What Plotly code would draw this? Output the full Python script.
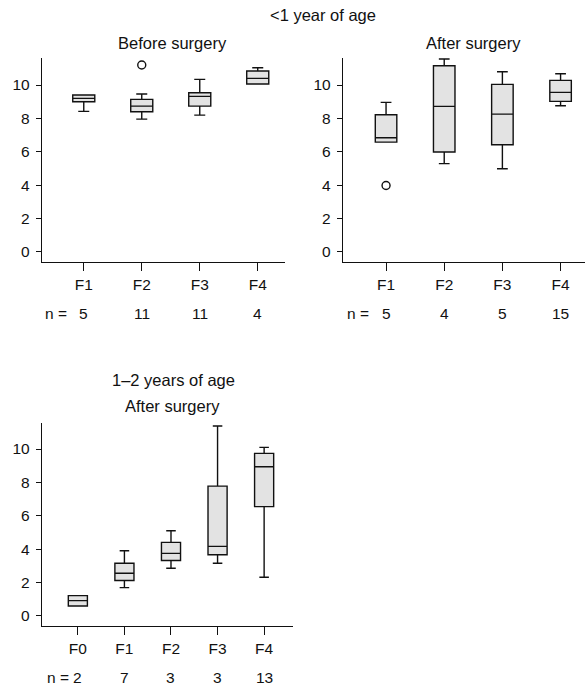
import plotly.graph_objects as go

# ---------------- data ----------------
cats_top = ["F1", "F2", "F3", "F4"]
cats_bot = ["F0", "F1", "F2", "F3", "F4"]

# <1 year, before surgery
bs_low = [8.42, 7.96, 8.2, 10.06]
bs_q1 = [9.0, 8.4, 8.74, 10.06]
bs_med = [9.2, 8.74, 9.32, 10.4]
bs_q3 = [9.4, 9.14, 9.54, 10.84]
bs_high = [9.4, 9.46, 10.34, 11.04]
bs_n = [5, 11, 11, 4]
bs_out_x = ["F2"]
bs_out_y = [11.2]

# <1 year, after surgery
as_low = [6.58, 5.29, 4.99, 8.76]
as_q1 = [6.58, 5.99, 6.42, 9.02]
as_med = [6.84, 8.72, 8.26, 9.56]
as_q3 = [8.22, 11.16, 10.04, 10.28]
as_high = [8.96, 11.56, 10.8, 10.68]
as_n = [5, 4, 5, 15]
as_out_x = ["F1"]
as_out_y = [3.98]

# 1-2 years, after surgery
b2_low = [0.6, 1.7, 2.86, 3.16, 2.32]
b2_q1 = [0.6, 2.13, 3.32, 3.67, 6.55]
b2_med = [0.92, 2.56, 3.75, 4.17, 8.94]
b2_q3 = [1.22, 3.16, 4.41, 7.78, 9.74]
b2_high = [1.22, 3.91, 5.11, 11.38, 10.1]
b2_n = [2, 7, 3, 3, 13]

W, H = 587, 687
FONT = "Liberation Sans, Arial, sans-serif"
INK = "#111111"
FILL = "#e3e3e3"

fig = go.Figure()


def add_box(cats, low, q1, med, q3, high, xa, ya, width):
    fig.add_trace(go.Box(
        x=cats, lowerfence=low, q1=q1, median=med, q3=q3, upperfence=high,
        xaxis=xa, yaxis=ya, width=width, whiskerwidth=0.5,
        fillcolor=FILL, line=dict(color=INK, width=1.4),
        boxpoints=False, showlegend=False, hoverinfo="skip"))


def add_out(xs, ys, xa, ya):
    fig.add_trace(go.Scatter(
        x=xs, y=ys, xaxis=xa, yaxis=ya, mode="markers", showlegend=False,
        marker=dict(symbol="circle-open", size=8, color=INK,
                    line=dict(color=INK, width=1.4))))


add_box(cats_top, bs_low, bs_q1, bs_med, bs_q3, bs_high, "x", "y", 0.38)
add_out(bs_out_x, bs_out_y, "x", "y")
add_box(cats_top, as_low, as_q1, as_med, as_q3, as_high, "x2", "y2", 0.37)
add_out(as_out_x, as_out_y, "x2", "y2")
add_box(cats_bot, b2_low, b2_q1, b2_med, b2_q3, b2_high, "x3", "y3", 0.41)


def px_x(p):
    return p / W


def px_y(p):
    return 1 - p / H


xcommon = dict(type="category", showline=True, linecolor=INK, linewidth=1.4,
               ticks="outside", ticklen=8, tickcolor=INK, tickwidth=1.3,
               showgrid=False, zeroline=False, fixedrange=True,
               tickfont=dict(family=FONT, size=15.5, color=INK))
ycommon = dict(showline=True, linecolor=INK, linewidth=1.4, ticks="outside",
               ticklen=5, tickcolor=INK, tickwidth=1.3, showgrid=False,
               zeroline=False, tickvals=[0, 2, 4, 6, 8, 10],
               tickfont=dict(family=FONT, size=15.5, color=INK),
               ticklabelstandoff=3)

fig.update_layout(
    width=W, height=H, margin=dict(l=0, r=0, t=0, b=0),
    paper_bgcolor="white", plot_bgcolor="white",
    font=dict(family=FONT, color=INK),
    xaxis=dict(xcommon, domain=[px_x(42), px_x(285)], range=[-0.72, 3.47],
               anchor="y", categoryorder="array", categoryarray=cats_top),
    yaxis=dict(ycommon, domain=[px_y(262), px_y(58)], range=[-0.6, 11.62],
               anchor="x"),
    xaxis2=dict(xcommon, domain=[px_x(343), px_x(585)], range=[-0.74, 3.42],
                anchor="y2", categoryorder="array", categoryarray=cats_top),
    yaxis2=dict(ycommon, domain=[px_y(262), px_y(58)], range=[-0.6, 11.62],
                anchor="x2"),
    xaxis3=dict(xcommon, domain=[px_x(42), px_x(293)], range=[-0.77, 4.62],
                anchor="y3", categoryorder="array", categoryarray=cats_bot),
    yaxis3=dict(ycommon, domain=[px_y(626), px_y(423)], range=[-0.6, 11.56],
                anchor="x3"),
)

ann = []


def text(t, xp, yp, size=16.5, xanchor="center"):
    ann.append(dict(text=t, x=px_x(xp), y=px_y(yp), xref="paper", yref="paper",
                    showarrow=False, xanchor=xanchor, yanchor="middle",
                    font=dict(family=FONT, size=size, color=INK)))


text("&lt;1 year of age", 323, 15)
text("Before surgery", 172, 43)
text("After surgery", 473, 43)
text("1–2 years of age", 173, 380)
text("After surgery", 172, 406)

# n = rows
text("n =", 43, 313, size=15.5, xanchor="left")
text("n =", 345, 313, size=15.5, xanchor="left")
text("n =", 45, 677, size=15.5, xanchor="left")


def nrow(cats, ns, xa, yp):
    for c, n in zip(cats, ns):
        ann.append(dict(text=str(n), x=c, y=px_y(yp), xref=xa, yref="paper",
                        showarrow=False, xanchor="center", yanchor="middle",
                        font=dict(family=FONT, size=15.5, color=INK)))


nrow(cats_top, bs_n, "x", 313)
nrow(cats_top, as_n, "x2", 313)
nrow(cats_bot, b2_n, "x3", 677)

fig.update_layout(annotations=ann)
fig.write_html("out.html")
